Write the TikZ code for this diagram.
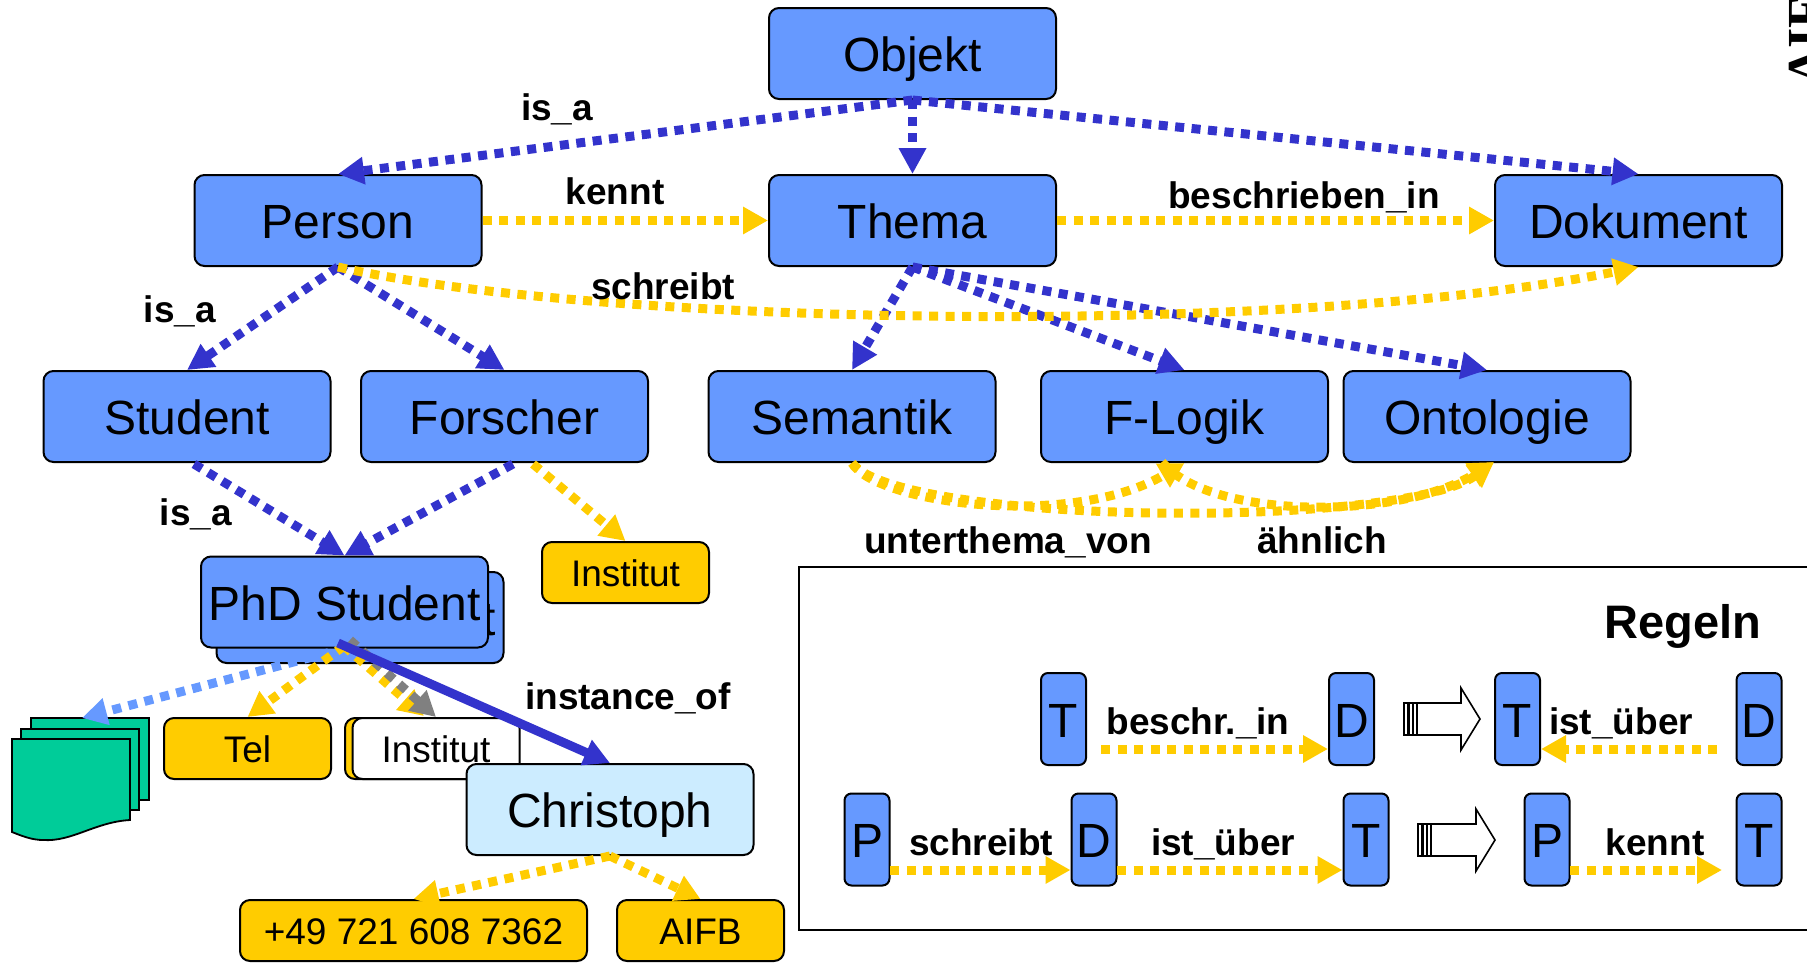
\documentclass[tikz,border=0pt]{standalone}
\usepackage{fontspec}
\setmainfont{Liberation Sans}
\newfontfamily\serifbold[BoldFont={Liberation Serif Bold}]{Liberation Serif}
\usetikzlibrary{arrows.meta}
\definecolor{cblue}{HTML}{6699FF}
\definecolor{lblue}{HTML}{CCECFF}
\definecolor{dblue}{HTML}{3333CC}
\definecolor{gold}{HTML}{FFCC00}
\definecolor{docgreen}{HTML}{00CC99}
\definecolor{gry}{HTML}{808080}
\tikzset{
  x=1pt,y=-1pt,
  box/.style={draw=black,line width=2pt,rounded corners=10pt,inner sep=0pt,align=center},
  big/.style={box,fill=cblue,minimum width=287pt,minimum height=91pt,font=\fontsize{48}{50}\selectfont,text height=36pt,text depth=0pt},
  inst/.style={big,fill=lblue},
  val/.style={box,fill=gold,minimum height=61pt,font=\fontsize{37}{40}\selectfont,text height=27pt,text depth=0pt},
  letter/.style={box,fill=cblue,minimum width=45pt,minimum height=92pt,rounded corners=7pt,font=\fontsize{48}{50}\selectfont,text height=36pt,text depth=0pt},
  lab/.style={inner sep=0pt,font=\fontsize{37}{40}\selectfont\bfseries,text height=27pt,text depth=0pt},
  isa/.style={draw=dblue,line width=9pt,dash pattern=on 9pt off 7.5pt,-{Triangle[length=26pt,width=26pt]}},
  rel/.style={draw=gold,line width=9pt,dash pattern=on 9pt off 7.5pt,-{Triangle[length=25pt,width=26pt]}},
  relg/.style={rel,draw=gry},
  rell/.style={rel,draw=cblue},
  inof/.style={draw=dblue,line width=9pt,-{Triangle[length=26pt,width=26pt]}},
  page/.style={draw=black,line width=1.8pt,fill=docgreen},
  blockar/.style={draw=black,line width=1.6pt,fill=white},
  stripe/.style={draw=black,line width=1.2pt,fill=white},
}
\begin{document}
\begin{tikzpicture}
\useasboundingbox (0,0) rectangle (1807,962);
\clip (0,0) rectangle (1807,962);
% rotated clipped logo
\node[rotate=90,anchor=base west,inner sep=0pt,font=\fontsize{52}{54}\selectfont\serifbold\bfseries] (logo) at (1823,86) {AIFB};
% rules frame
\draw[line width=2pt] (1820,567) -- (799,567) -- (799,930) -- (1820,930);
% nodes
\node[big] (objekt) at (912.5,53.5) {Objekt};
\node[big] (person) at (338,220.5) {Person};
\node[big] (thema) at (912.5,220.5) {Thema};
\node[big] (dokument) at (1638.5,220.5) {Dokument};
\node[big] (student) at (187,416.5) {Student};
\node[big] (forscher) at (504.5,416.5) {Forscher};
\node[big] (semantik) at (852,416.5) {Semantik};
\node[big] (flogik) at (1184.5,416.5) {F-Logik};
\node[big] (ontologie) at (1487,416.5) {Ontologie};
\node[big] (phdb) at (360,617.5) {PhD Student};
\node[big] (phd) at (344.5,602) {PhD Student};
\node[val,minimum width=167pt] (institut) at (625.5,572.5) {Institut};
\node[val,minimum width=167pt] (tel) at (247.5,748.5) {Tel};
\node[val,minimum width=167pt] (insto) at (428.5,748.5) {};
\node[val,fill=white,minimum width=167pt] (instw) at (436,748.5) {Institut};
\node[inst] (christoph) at (610,809.5) {Christoph};
\node[val,minimum width=347pt] (fon) at (413.5,930.5) {+49 721 608 7362};
\node[val,minimum width=167pt] (aifb) at (700.5,930.5) {AIFB};
% document stack
\fill[page] (31,718) rectangle (149,800);
\fill[page] (21,729) rectangle (139,810);
\fill[page] (12,739) -- (130,739) -- (130,820) .. controls (95,822) and (72,842) .. (43,840) .. controls (32,840) and (22,836) .. (12,832) -- cycle;
\coordinate (docs) at (82,718);
% rule nodes
\node[letter] (r1t) at (1063.5,719) {T};
\node[letter] (r1d) at (1351.5,719) {D};
\node[letter] (r1t2) at (1517.5,719) {T};
\node[letter] (r1d2) at (1759,719) {D};
\node[letter] (r2p) at (867,839.5) {P};
\node[letter] (r2d) at (1094,839.5) {D};
\node[letter] (r2t) at (1366,839.5) {T};
\node[letter] (r2p2) at (1547,839.5) {P};
\node[letter] (r2t2) at (1759,839.5) {T};
% block arrows
\draw[blockar] (1417,703) -- (1461,703) -- (1461,688) -- (1480,719) -- (1461,750) -- (1461,735) -- (1417,735) -- cycle;
\draw[stripe] (1404,703) rectangle (1408,735) (1409,703) rectangle (1412.5,735) (1413.5,703) rectangle (1417,735);
\draw[blockar] (1431,824) -- (1476,824) -- (1476,809) -- (1495,840) -- (1476,871) -- (1476,856) -- (1431,856) -- cycle;
\draw[stripe] (1418,824) rectangle (1422,856) (1423,824) rectangle (1426.5,856) (1427.5,824) rectangle (1431,856);
% blue hierarchy
\draw[isa] (objekt.south) -- (person.north);
\draw[isa] (objekt.south) -- (thema.north);
\draw[isa] (objekt.south) -- (dokument.north);
\draw[isa] (person.south) -- (student.north);
\draw[isa] (person.south) -- (forscher.north);
\draw[isa] (thema.south) -- (semantik.north);
\draw[isa] (thema.south) -- (flogik.north);
\draw[isa] (thema.south) -- (ontologie.north);
\coordinate (ss) at (194,464);
\coordinate (fbs) at (513,464);
\draw[isa] (ss) -- (phd.north);
\draw[isa] (fbs) -- (phd.north);
% yellow relations
\draw[rel] (person.east) -- (thema.west);
\draw[rel] (thema.east) -- (dokument.west);
\draw[rel] (person.south) .. controls (600,326) and (1290,338) .. (dokument.south);
\coordinate (fy) at (533,464);
\draw[rel] (fy) -- (institut.north);
\draw[rel] (semantik.south) .. controls (875,503) and (1070,530) .. (flogik.south);
\draw[rel] (semantik.south) .. controls (900,525) and (1400,530) .. (1494,462);
\coordinate (fs) at (1162,462);
\draw[rel] (fs) .. controls (1210,520) and (1400,520) .. (1494,462);
% PhD outgoing
\coordinate (py) at (344,646);
\coordinate (pg) at (350,640);
\coordinate (pb) at (338,643);
\coordinate (ityp) at (424,716);
\draw[rell] (phd.south) -- (docs);
\draw[rel] (py) -- (tel.north);
\draw[rel] (py) -- (ityp);
\draw[relg] (pg) -- (instw.north);
\draw[inof] (pb) -- (christoph.north);
\draw[rel] (christoph.south) -- (fon.north);
\draw[rel] (christoph.south) -- (aifb.north);
% rule arrows
\coordinate (a1) at (1101,749);
\coordinate (a2) at (1717,749);
\draw[rel] (a1) -- (r1d.west |- a1);
\draw[rel] (a2) -- (r1t2.east |- a2);
\coordinate (b1) at (890,870);
\coordinate (b2) at (1117,870);
\coordinate (b3) at (1570,870);
\coordinate (b4) at (1722,870);
\draw[rel] (b1) -- (r2d.west |- b1);
\draw[rel] (b2) -- (r2t.west |- b2);
\draw[rel] (b3) -- (b4);
% labels
\node[lab] (l1) at (557,107) {is\_a};
\node[lab] (l2) at (615,191) {kennt};
\node[lab] (l3) at (1304,195) {beschrieben\_in};
\node[lab] (l4) at (663,286) {schreibt};
\node[lab] (l5) at (180,309) {is\_a};
\node[lab] (l6) at (196,512) {is\_a};
\node[lab] (l7) at (1008,540) {unterthema\_von};
\node[lab] (l8) at (1322,540) {ähnlich};
\node[lab] (l9) at (628,696) {instance\_of};
\node[lab,font=\fontsize{47}{50}\selectfont\bfseries] (l10) at (1683,625) {Regeln};
\node[lab] (l11) at (1198,721) {beschr.\_in};
\node[lab] (l12) at (1621,721) {ist\_über};
\node[lab] (l13) at (981,842) {schreibt};
\node[lab] (l14) at (1223,842) {ist\_über};
\node[lab] (l15) at (1655,842) {kennt};
\end{tikzpicture}
\end{document}
